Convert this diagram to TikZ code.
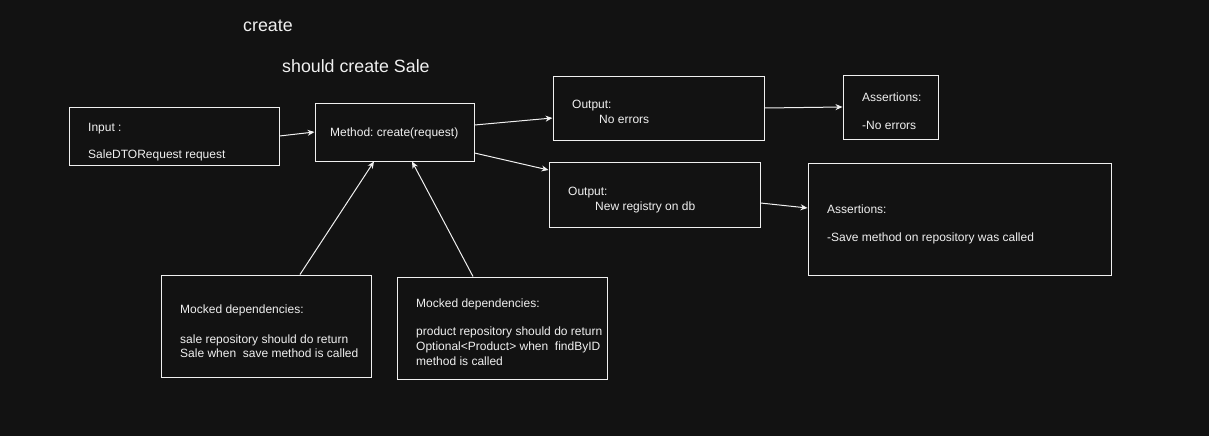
\documentclass[tikz,border=0pt]{standalone}
\usepackage{fontspec}
\setmainfont{Liberation Sans}
\usetikzlibrary{arrows.meta}
\definecolor{bg}{HTML}{121212}
\definecolor{fg}{HTML}{F0F0F0}
\frenchspacing
\begin{document}
\begin{tikzpicture}[x=1pt,y=-1pt,
  box/.style={draw=fg, line width=1pt, inner sep=0pt},
  txt/.style={anchor=base west, inner sep=0pt, text=fg, font=\fontsize{12}{14}\selectfont},
  ttl/.style={anchor=base west, inner sep=0pt, text=fg, font=\fontsize{17.8}{20}\selectfont},
  conn/.style={draw=fg, line width=1pt, -{Stealth[length=7pt,width=6pt]}}
]
\fill[bg] (0,0) rectangle (1209,436);
\useasboundingbox (0,0) rectangle (1209,436);

% titles
\node[ttl] (t1) at (243,32) {create};
\node[ttl] (t2) at (282,73) {should create Sale};

% boxes
\node[box, minimum width=210pt, minimum height=58pt] (in) at (174,136) {};
\node[box, minimum width=159pt, minimum height=58pt] (meth) at (394.5,132) {};
\node[box, minimum width=211pt, minimum height=64pt] (out1) at (658.5,108) {};
\node[box, minimum width=95pt, minimum height=64pt] (as1) at (890.5,107) {};
\node[box, minimum width=211pt, minimum height=65pt] (out2) at (654.5,194.5) {};
\node[box, minimum width=303pt, minimum height=112pt] (as2) at (959.5,219) {};
\node[box, minimum width=210pt, minimum height=102pt] (mk1) at (266,326) {};
\node[box, minimum width=210pt, minimum height=102pt] (mk2) at (502,328) {};

% texts
\node[txt] (inA) at (88,131) {Input :};
\node[txt] (inB) at (88,158) {SaleDTORequest request};
\node[txt] (mA) at (330,136) {Method: create(request)};
\node[txt] (o1A) at (572,108) {Output:};
\node[txt] (o1B) at (599,123) {No errors};
\node[txt] (a1A) at (862,101) {Assertions:};
\node[txt] (a1B) at (862,129) {-No errors};
\node[txt] (o2A) at (568,195) {Output:};
\node[txt] (o2B) at (595,210) {New registry on db};
\node[txt] (a2A) at (827,213) {Assertions:};
\node[txt] (a2B) at (827,241) {-Save method on repository was called};
\node[txt] (k1A) at (180,313) {Mocked dependencies:};
\node[txt] (k1B) at (180,343) {sale repository should do return};
\node[txt] (k1C) at (180,357) {Sale when\ \ save method is called};
\node[txt] (k2A) at (416,307) {Mocked dependencies:};
\node[txt] (k2B) at (416,335) {product repository should do return};
\node[txt] (k2C) at (416,350) {Optional<Product> when\ \ findByID};
\node[txt] (k2D) at (416,365) {method is called};

% connectors
\draw[conn] (in.east) -- (meth.west);
\draw[conn] ([yshift=7pt]meth.east) -- ([yshift=-10pt]out1.west);
\draw[conn] ([yshift=-21pt]meth.east) -- ([yshift=24.5pt]out2.west);
\draw[conn] (out1.east) -- (as1.west);
\draw[conn] ([yshift=-8.5pt]out2.east) -- ([yshift=11pt]as2.west);
\draw[conn] ([xshift=34pt]mk1.north) -- ([xshift=-20.5pt]meth.south);
\draw[conn] ([xshift=-29pt]mk2.north) -- ([xshift=17.5pt]meth.south);
\end{tikzpicture}
\end{document}
